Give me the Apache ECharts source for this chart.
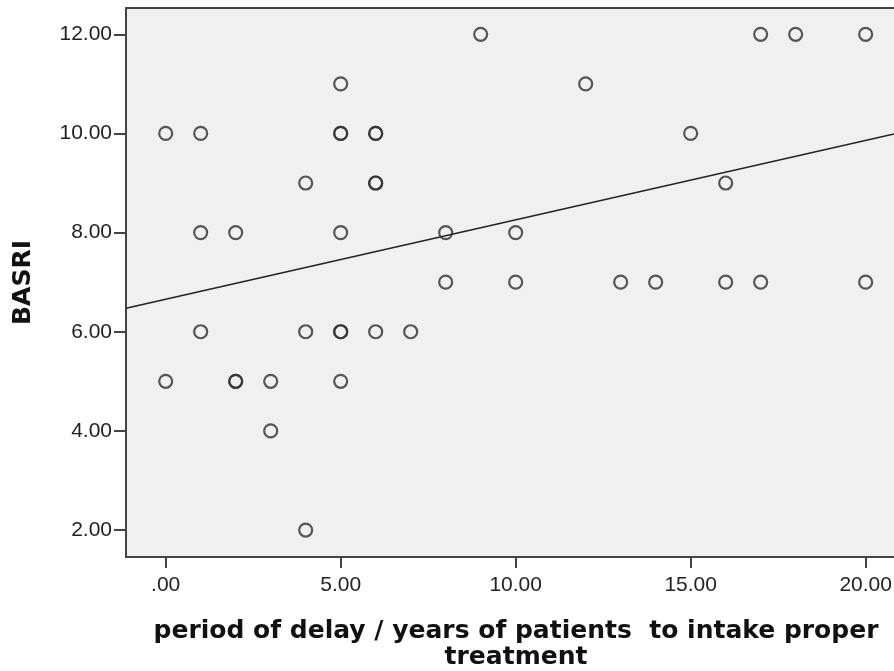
<!DOCTYPE html>
<html>
<head>
<meta charset="utf-8">
<script src="https://cdn.jsdelivr.net/npm/echarts@6/dist/echarts.min.js"></script>
<style>
html,body{margin:0;padding:0;background:#fff;}
#c{width:894px;height:671px;}
</style>
</head>
<body>
<div id="c"></div>
<script>
// period of delay (years)
const delayYears = [0,1,1,2,1,0,2,2,3,3,4,4,4,5,5,5,6,6,5,6,6,5,5,6,7,5,9,8,8,10,10,12,13,14,15,16,16,17,17,18,20,20];
// BASRI score
const basri = [10,10,8,8,6,5,5,5,5,4,9,6,2,11,10,10,10,10,8,9,9,6,6,6,6,5,12,8,7,8,7,11,7,7,10,9,7,7,12,12,12,7];
// fitted line end points
const fitX = [-1.134, 20.81];
const fitY = [6.475, 9.99];
const xTicks = [0,5,10,15,20];
const yTicks = [2,4,6,8,10,12];
const xTitle = 'period of delay / years of patients  to intake proper\ntreatment';
const yTitle = 'BASRI';

const points = delayYears.map((x,i)=>[x, basri[i]]);
const fitLine = fitX.map((x,i)=>[x, fitY[i]]);
const fmt = v => { const s = Number(v).toFixed(2); return s.startsWith('0.') ? s.slice(1) : s; };
const axisCol = '#444';
const xMin = -1.134, xMax = 20.81;

const chart = echarts.init(document.getElementById('c'), null, {renderer:'canvas'});
chart.setOption({
  animation:false,
  backgroundColor:'#ffffff',
  grid:{left:126, top:8, bottom:114, right:0, outerBoundsMode:'none', containLabel:false,
        show:true, backgroundColor:'#f0f0f0', borderWidth:0},
  xAxis:[{
    type:'value', min:xMin, max:xMax,
    name:xTitle, nameLocation:'middle', nameGap:61,
    nameTextStyle:{fontFamily:'DejaVu Sans', fontWeight:'bold', fontSize:25, lineHeight:26, color:'#111', padding:[0,0,0,12]},
    axisLine:{show:true, onZero:false, lineStyle:{color:axisCol, width:2}},
    axisTick:{show:true, length:11, lineStyle:{color:axisCol, width:2}, customValues:xTicks},
    axisLabel:{margin:18, fontFamily:'Liberation Sans', fontSize:21, color:'#222', formatter:fmt, customValues:xTicks},
    splitLine:{show:false}
  },{
    type:'value', position:'top', min:xMin, max:xMax,
    axisLine:{show:true, onZero:false, lineStyle:{color:axisCol, width:2}},
    axisTick:{show:false}, axisLabel:{show:false}, splitLine:{show:false}
  }],
  yAxis:{
    type:'value', min:1.456, max:12.53,
    name:yTitle, nameLocation:'middle', nameGap:90,
    nameTextStyle:{fontFamily:'DejaVu Sans', fontWeight:'bold', fontSize:25, color:'#111'},
    axisLine:{show:true, onZero:false, lineStyle:{color:axisCol, width:2}},
    axisTick:{show:true, length:12, lineStyle:{color:axisCol, width:2}, customValues:yTicks},
    axisLabel:{margin:14, fontFamily:'Liberation Sans', fontSize:21, color:'#222', formatter:fmt, customValues:yTicks},
    splitLine:{show:false}
  },
  series:[
    {type:'line', data:fitLine, symbol:'none', silent:true, lineStyle:{color:'#222', width:1.6}, z:2},
    {type:'scatter', data:points, symbol:'circle', symbolSize:13,
     itemStyle:{color:'rgba(0,0,0,0)', borderColor:'#2e2e2e', borderWidth:2.2}, z:3}
  ]
});
</script>
</body>
</html>
